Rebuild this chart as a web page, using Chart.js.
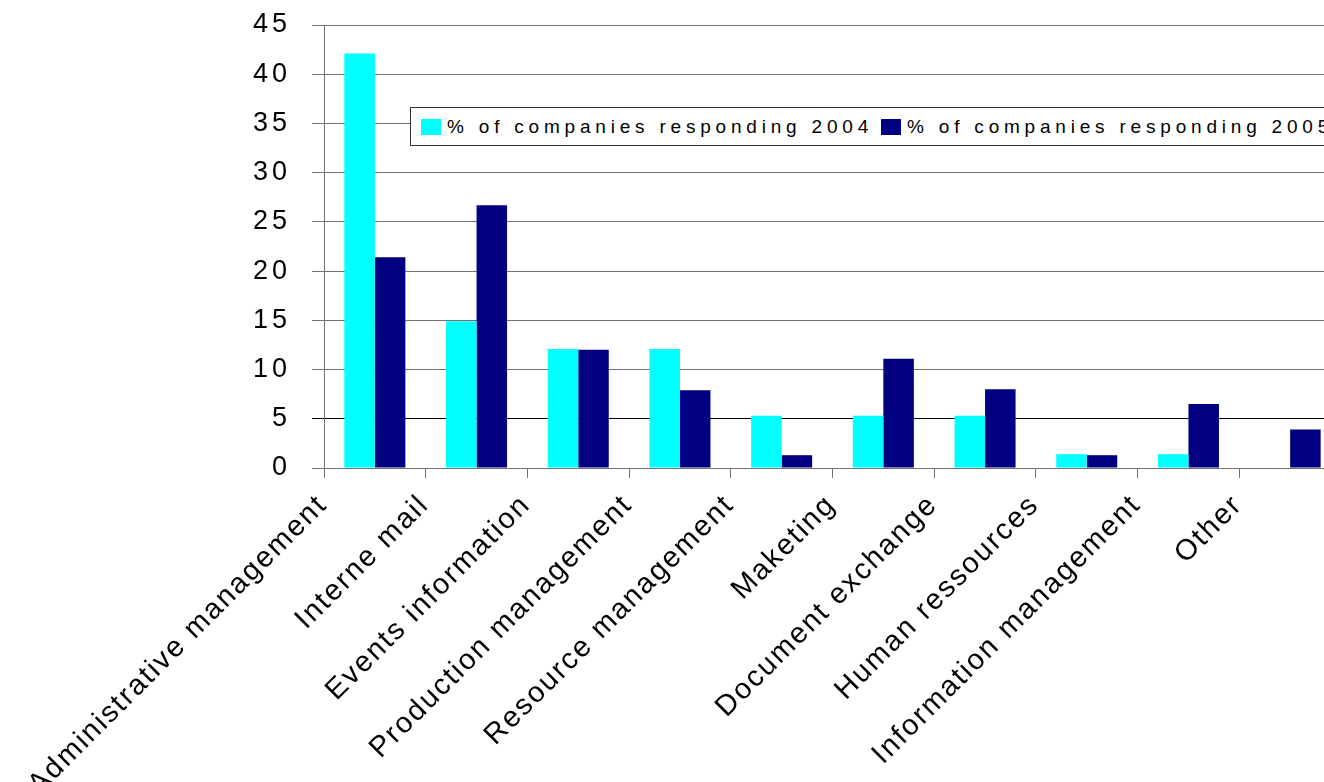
<!DOCTYPE html>
<html>
<head>
<meta charset="utf-8">
<script src="https://cdn.jsdelivr.net/npm/chart.js@4"></script>
<style>
  html, body { margin: 0; padding: 0; background: #fff; overflow: hidden; }
  #wrap { position: relative; width: 1344px; height: 782px; }
  #legend {
    position: absolute; left: 410px; top: 107px; height: 37px;
    display: flex; align-items: center; white-space: nowrap;
    border: 1px solid #333; background: #fff;
    padding: 0 40px 0 10px;
    font: 19px "Liberation Sans", Arial, sans-serif; letter-spacing: 4.8px; color: #000;
  }
  #legend .item { display: flex; align-items: center; margin-right: 8px; }
  #legend .box { width: 20px; height: 16px; margin-right: 6px; }
</style>
</head>
<body>
<div id="wrap">
  <canvas id="myChart" width="1344" height="782"></canvas>
  <div id="legend"></div>
</div>
<script>
const categories = ["Administrative management", "Interne mail", "Events information", "Production management",
  "Resource management", "Maketing", "Document exchange", "Human ressources", "Information management", "Other"];
const seriesNames = ["% of companies responding 2004", "% of companies responding 2005"];
const values2004 = [42.1, 14.9, 12.1, 12.1, 5.3, 5.3, 5.3, 1.4, 1.4, 0];
const values2005 = [21.4, 26.7, 12.0, 7.9, 1.3, 11.1, 8.0, 1.3, 6.5, 3.9];
const seriesColors = ["#00ffff", "#000080"];

const FONT = "'Liberation Sans', Arial, sans-serif";

// spaced-out lettering: wide on the value axis, tighter on the category labels
const spacing = {
    id: "spacing",
    beforeLayout(chart) { chart.ctx.letterSpacing = "4px"; },
    afterLayout(chart) {
        const sx = chart.scales.x;
        if (sx && !sx._spaced) {
            const orig = sx.drawLabels;
            sx.drawLabels = function (area) {
                this.ctx.letterSpacing = "2px";
                orig.call(this, area);
                this.ctx.letterSpacing = "4px";
            };
            sx._spaced = true;
        }
    },
    beforeDraw(chart) { chart.ctx.letterSpacing = "4px"; }
};

const data = {
    labels: categories,
    datasets: [values2004, values2005].map((vals, i) => ({
        label: seriesNames[i],
        data: vals,
        backgroundColor: seriesColors[i],
        borderWidth: 0,
        categoryPercentage: 0.6,
        barPercentage: 1.0
    }))
};

const gridColor = ctx => (ctx.tick && ctx.tick.value === 5 ? "#000" : "#707070");

const config = {
    type: "bar",
    data: data,
    plugins: [spacing],
    options: {
        responsive: false,
        animation: false,
        devicePixelRatio: 1,
        layout: { padding: { top: 25, right: 3, left: 0, bottom: 0 } },
        plugins: {
            legend: { display: false },
            tooltip: { enabled: false }
        },
        scales: {
            x: {
                grid: { display: true, drawOnChartArea: false, offset: true, tickLength: 10, color: "#707070" },
                border: { color: "#707070" },
                ticks: {
                    color: "#000",
                    font: { family: FONT, size: 29 },
                    minRotation: 45,
                    maxRotation: 45,
                    autoSkip: false,
                    labelOffset: -52,
                    padding: 10
                },
                afterFit: s => { s.height = 314; }
            },
            y: {
                min: 0,
                max: 45,
                ticks: {
                    stepSize: 5,
                    color: "#000",
                    font: { family: FONT, size: 27 },
                    padding: 21
                },
                grid: { color: gridColor, tickColor: gridColor, tickLength: 12 },
                border: { color: "#707070" },
                afterFit: s => {
                    s.width = 324;
                    s.paddingTop = 0;
                    s.paddingBottom = 0;
                }
            }
        }
    }
};

const chart = new Chart(document.getElementById("myChart"), config);

// boxed legend sitting over the plot
const legend = document.getElementById("legend");
chart.data.datasets.forEach(ds => {
    const item = document.createElement("div");
    item.className = "item";
    const box = document.createElement("span");
    box.className = "box";
    box.style.background = ds.backgroundColor;
    const txt = document.createElement("span");
    txt.textContent = ds.label;
    item.appendChild(box);
    item.appendChild(txt);
    legend.appendChild(item);
});
</script>
</body>
</html>
